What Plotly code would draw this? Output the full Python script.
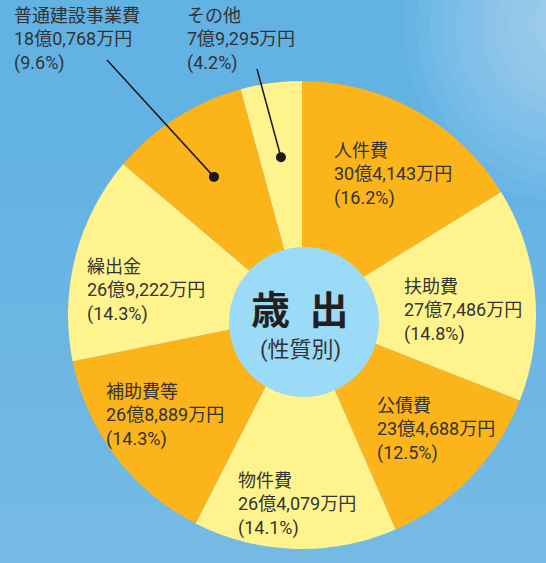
import math
import plotly.graph_objects as go

W, H = 546, 563

# ---- data ----
categories = ["人件費", "扶助費", "公債費", "物件費", "補助費等", "繰出金", "普通建設事業費", "その他"]
values_man_yen = [304143, 277486, 234688, 264079, 268889, 269222, 180768, 79295]
amount_labels = ["30億4,143万円", "27億7,486万円", "23億4,688万円", "26億4,079万円",
                 "26億8,889万円", "26億9,222万円", "18億0,768万円", "7億9,295万円"]
pct_labels = ["(16.2%)", "(14.8%)", "(12.5%)", "(14.1%)", "(14.3%)", "(14.3%)", "(9.6%)", "(4.2%)"]

ORANGE = "#FBB419"
YELLOW = "#FFF38E"
colors = [ORANGE, YELLOW, ORANGE, YELLOW, ORANGE, YELLOW, ORANGE, YELLOW]

# geometry (pixels)
CX, CY, R = 302, 315, 234
ICX, ICY, IR = 304, 322, 75

def px(x):
    return x / W

def py(y):
    return 1 - y / H

fig = go.Figure()
fig.add_trace(go.Pie(
    labels=categories,
    values=values_man_yen,
    sort=False,
    direction="clockwise",
    rotation=0,
    marker=dict(colors=colors, line=dict(width=0)),
    textinfo="none",
    hoverinfo="label+value+percent",
    showlegend=False,
    domain=dict(x=[px(CX - R), px(CX + R)], y=[py(CY + R), py(CY - R)]),
))

shapes = []
# sky gradient: lighter toward the bottom
for k in range(8):
    y0 = 160 + k * 50
    shapes.append(dict(type="rect", xref="paper", yref="paper",
                       x0=0, x1=1, y0=0, y1=py(y0),
                       fillcolor="white", opacity=0.02, line=dict(width=0), layer="below"))
# soft cloud in the top-right corner (radial fade)
for k in range(12):
    r = 18 + k * 13
    shapes.append(dict(type="circle", xref="paper", yref="paper",
                       x0=px(565 - r), x1=px(565 + r), y0=py(25 + r * 1.1), y1=py(25 - r * 1.1),
                       fillcolor="white", opacity=0.045, line=dict(width=0), layer="below"))

# inner circle
shapes.append(dict(type="circle", xref="paper", yref="paper",
                   x0=px(ICX - IR), x1=px(ICX + IR), y0=py(ICY + IR), y1=py(ICY - IR),
                   fillcolor="#9CDBF7", line=dict(width=0), layer="above"))

# leader lines for small slices, dot at slice mid-angle
total = sum(values_man_yen)
cum = 0
mid_angles = []
for v in values_man_yen:
    mid_angles.append((cum + v / 2) / total * 360)
    cum += v

leader_starts = {6: (107, 60), 7: (257, 69)}
leader_r = {6: 0.70, 7: 0.68}
for idx, (sx, sy) in leader_starts.items():
    a = math.radians(mid_angles[idx])
    dx = CX + leader_r[idx] * R * math.sin(a)
    dy = CY - leader_r[idx] * R * math.cos(a)
    shapes.append(dict(type="line", xref="paper", yref="paper",
                       x0=px(sx), y0=py(sy), x1=px(dx), y1=py(dy),
                       line=dict(color="#1a1a1a", width=1.5), layer="above"))
    rd = 5
    shapes.append(dict(type="circle", xref="paper", yref="paper",
                       x0=px(dx - rd), x1=px(dx + rd), y0=py(dy + rd), y1=py(dy - rd),
                       fillcolor="#1a1a1a", line=dict(width=0), layer="above"))

# label positions (left edge, first line center) in pixels
label_pos = [(332, 151), (402, 287), (375, 406), (236, 481), (104, 392), (85, 267), (12, 16), (185, 16)]

FONT = "Roboto, Noto Sans CJK JP"
LINE = 23.4
annotations = []
for i, (lx, ly) in enumerate(label_pos):
    annotations.append(dict(
        x=px(lx), y=py(ly + LINE), xref="paper", yref="paper",
        text="<br>".join([categories[i], amount_labels[i], pct_labels[i]]),
        showarrow=False, xanchor="left", yanchor="middle", align="left",
        font=dict(family=FONT, size=18, color="#333333")))

annotations.append(dict(x=px(300), y=py(307), xref="paper", yref="paper",
                        text="<b>歳\u2002出</b>", showarrow=False, xanchor="center", yanchor="middle",
                        font=dict(family="Noto Sans CJK JP", size=39, color="#231f20")))
annotations.append(dict(x=px(300), y=py(350), xref="paper", yref="paper",
                        text="(性質別)", showarrow=False, xanchor="center", yanchor="middle",
                        font=dict(family=FONT, size=22, color="#333333")))

fig.update_layout(
    width=W, height=H,
    margin=dict(l=0, r=0, t=0, b=0),
    paper_bgcolor="#62B2E4",
    plot_bgcolor="#62B2E4",
    shapes=shapes,
    annotations=annotations,
)

fig.write_html(
    "out.html",
    config={"displayModeBar": False},
    post_script="document.body.style.margin='0';document.body.style.padding='0';document.body.style.overflow='hidden';",
)
